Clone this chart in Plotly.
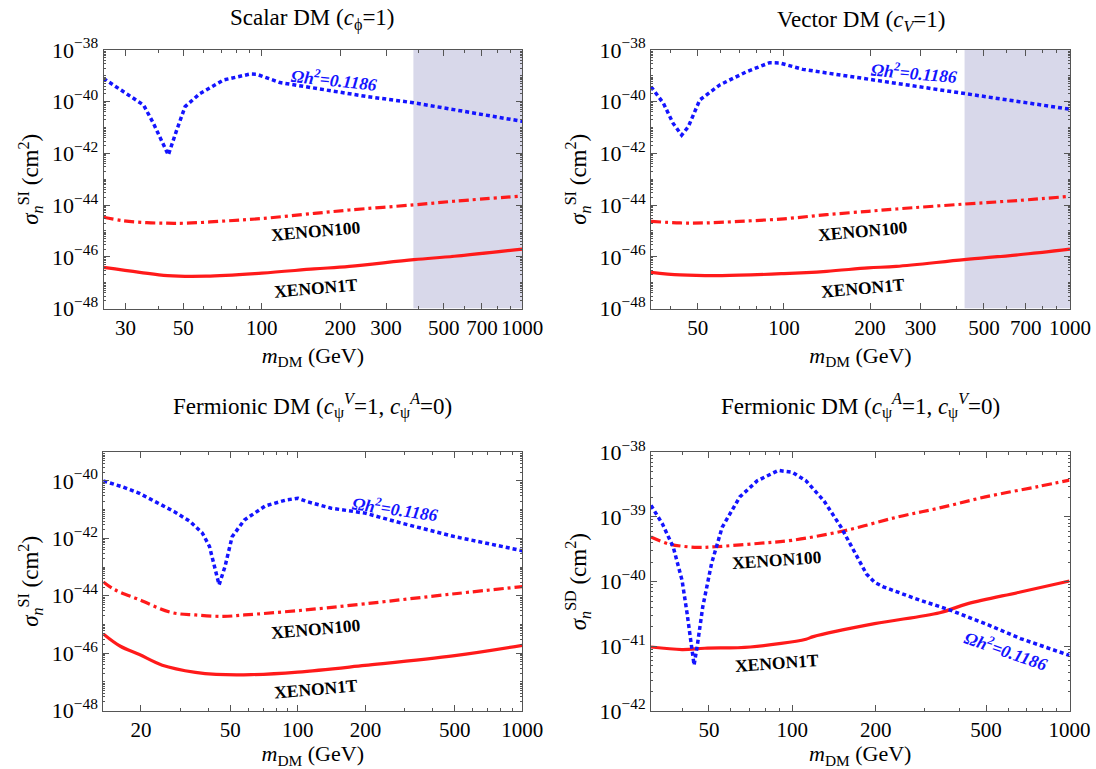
import numpy as np
import plotly.graph_objects as go

# ---------------- data (masses in GeV, cross sections as log10(cm^2)) ----------------
# Panel 1: Scalar DM
p1_relic_m = [24.7, 35.2, 38.4, 41.9, 43.8, 47.2, 50.8, 58.0, 71.3, 90.2, 95.7, 117.5, 140, 188, 253, 382, 612, 1000]
p1_relic_s = [-39.10, -40.13, -40.84, -41.62, -42.06, -41.09, -40.19, -39.68, -39.16, -38.93, -38.94, -39.26, -39.39, -39.61, -39.80, -40.04, -40.39, -40.76]
p1_x100_m = [24.7, 29.2, 36.2, 43.5, 50.8, 73.6, 100, 159, 217, 384, 548, 1000]
p1_x100_s = [-44.47, -44.60, -44.68, -44.70, -44.70, -44.61, -44.52, -44.32, -44.19, -43.99, -43.85, -43.65]
p1_x1t_m = [24.7, 34, 43.5, 61.2, 100, 159, 217, 384, 548, 1000]
p1_x1t_s = [-46.41, -46.60, -46.73, -46.75, -46.63, -46.47, -46.37, -46.11, -45.98, -45.70]
p1_shade = [382, 1000]

# Panel 2: Vector DM
p2_relic_m = [34.3, 37.9, 41.0, 43.9, 46.3, 50.8, 59.7, 74, 89.2, 96.6, 116.5, 174, 227, 433, 665, 1000]
p2_relic_s = [-39.42, -40.06, -40.84, -41.29, -40.97, -39.93, -39.35, -38.84, -38.49, -38.50, -38.75, -39.03, -39.23, -39.68, -40.00, -40.29]
p2_x100_m = [34.3, 43.4, 52.7, 69.8, 100, 141, 197, 247, 427, 661, 1000]
p2_x100_s = [-44.63, -44.69, -44.69, -44.63, -44.53, -44.37, -44.24, -44.15, -43.96, -43.82, -43.66]
p2_x1t_m = [34.3, 43.4, 60.7, 100, 141, 197, 247, 427, 661, 1000]
p2_x1t_s = [-46.60, -46.70, -46.73, -46.65, -46.56, -46.43, -46.37, -46.11, -45.92, -45.70]
p2_shade = [428, 1000]

# Panel 3: Fermionic DM, vector coupling (SI)
p3_relic_m = [13.6, 16.5, 19.7, 24.4, 28.2, 33.1, 37.6, 40.4, 42.6, 44.6, 47.4, 51, 57.8, 71.6, 88.9, 100, 110, 141, 199, 290, 500, 1000]
p3_relic_s = [-40.00, -40.20, -40.43, -40.80, -41.07, -41.41, -41.82, -42.28, -42.98, -43.62, -42.98, -41.94, -41.36, -40.87, -40.66, -40.60, -40.72, -40.95, -41.12, -41.47, -41.94, -42.43]
p3_x100_m = [13.6, 15.3, 19.7, 27.2, 35, 46.6, 57.8, 100, 199, 500, 1000]
p3_x100_s = [-43.52, -43.79, -44.14, -44.58, -44.67, -44.72, -44.67, -44.52, -44.28, -43.93, -43.68]
p3_x1t_m = [13.6, 16.2, 19.7, 24.9, 35, 43.3, 62.1, 100, 199, 500, 1000]
p3_x1t_s = [-45.33, -45.76, -46.05, -46.42, -46.67, -46.74, -46.75, -46.66, -46.43, -46.09, -45.73]

# Panel 4: Fermionic DM, axial coupling (SD)
p4_relic_m = [30.9, 34.0, 37.2, 40.0, 41.7, 43.2, 44.2, 45.5, 47.5, 51.1, 55.8, 64.6, 74.7, 89, 100, 112, 130, 150, 169, 185, 198, 213, 277, 371, 497, 665, 1000]
p4_relic_s = [-38.82, -39.11, -39.47, -39.98, -40.49, -40.96, -41.29, -40.96, -40.39, -39.72, -39.16, -38.69, -38.44, -38.28, -38.31, -38.44, -38.75, -39.16, -39.57, -39.88, -40.01, -40.08, -40.26, -40.44, -40.65, -40.88, -41.14]
p4_x100_m = [30.9, 36.1, 45.5, 52.7, 74.7, 100, 155, 240, 340, 497, 769, 1000]
p4_x100_s = [-39.31, -39.42, -39.47, -39.46, -39.41, -39.36, -39.21, -39.00, -38.86, -38.69, -38.53, -38.43]
p4_x1t_m = [30.9, 40, 48.3, 70.5, 112, 119, 198, 340, 430, 665, 1000]
p4_x1t_s = [-41.01, -41.05, -41.03, -41.01, -40.89, -40.85, -40.65, -40.48, -40.34, -40.16, -39.99]

# axis ranges (GeV) and tick labels
x_ranges = [[24.7, 1000], [34.3, 1000], [13.6, 1000], [30.9, 1000]]
x_ticks = [[30, 50, 100, 200, 300, 500, 700, 1000],
           [50, 100, 200, 300, 500, 700, 1000],
           [20, 50, 100, 200, 500, 1000],
           [50, 100, 200, 500, 1000]]
y_ranges = [[-48, -38], [-48, -38], [-48, -39], [-42, -38]]
y_ticks = [[-48, -46, -44, -42, -40, -38], [-48, -46, -44, -42, -40, -38],
           [-48, -46, -44, -42, -40], [-42, -41, -40, -39, -38]]

titles = ["Scalar DM (<i>c</i><sub>ϕ</sub>=1)",
          "Vector DM (<i>c</i><sub><i>V</i></sub>=1)",
          "Fermionic DM (<i>c</i><sub>ψ</sub><sup><i>V</i></sup>=1, <i>c</i><sub>ψ</sub><sup><i>A</i></sup>=0)",
          "Fermionic DM (<i>c</i><sub>ψ</sub><sup><i>A</i></sup>=1, <i>c</i><sub>ψ</sub><sup><i>V</i></sup>=0)"]
y_titles = ["<i>σ</i><sub><i>n</i></sub><sup>SI</sup> (cm<sup>2</sup>)"] * 3 + ["<i>σ</i><sub><i>n</i></sub><sup>SD</sup> (cm<sup>2</sup>)"]
x_title = "<i>m</i><sub>DM</sub> (GeV)"

# label positions (GeV, log10 sigma, angle)
relic_lbl = [(189, -39.12, 6), (284, -38.84, 5), (270, -40.95, 8), (592, -41.06, 19)]
x100_lbl = [(162, -45.02, -5), (189, -45.01, -5), (120, -45.16, -5), (87.7, -39.67, -4)]
x1t_lbl = [(162, -47.2, -5), (189, -47.2, -5), (120, -47.25, -5), (87.7, -41.26, -4)]

# ---------------- layout geometry (pixels) ----------------
W, H = 1096, 769
px_x = [[103.5, 522.3], [651, 1070], [103.3, 522.3], [651, 1069.5]]
px_y = [[50, 308.5], [50, 308.5], [452.3, 710.5], [452.3, 711]]
title_y = [19, 21, 406, 406]

FONT = "Liberation Serif"
BLUE = "#1414ff"
RED = "#ff1a1a"
FRAME = "#555555"

fig = go.Figure()
panels = [
    (p1_relic_m, p1_relic_s, p1_x100_m, p1_x100_s, p1_x1t_m, p1_x1t_s, p1_shade),
    (p2_relic_m, p2_relic_s, p2_x100_m, p2_x100_s, p2_x1t_m, p2_x1t_s, p2_shade),
    (p3_relic_m, p3_relic_s, p3_x100_m, p3_x100_s, p3_x1t_m, p3_x1t_s, None),
    (p4_relic_m, p4_relic_s, p4_x100_m, p4_x100_s, p4_x1t_m, p4_x1t_s, None),
]


def sup(v):
    return "10<sup>" + ("−" if v < 0 else "") + str(abs(v)) + "</sup>"


annotations = []
for i, (rm, rs, am, a_s, tm, ts, shade) in enumerate(panels):
    k = "" if i == 0 else str(i + 1)
    xa, ya = "x" + k, "y" + k
    if shade is not None:
        fig.add_trace(go.Scatter(
            x=[shade[0], shade[1], shade[1], shade[0], shade[0]],
            y=[10.0 ** y_ranges[i][0], 10.0 ** y_ranges[i][0], 10.0 ** y_ranges[i][1], 10.0 ** y_ranges[i][1], 10.0 ** y_ranges[i][0]],
            fill="toself", fillcolor="rgb(216,216,234)", line=dict(width=0),
            mode="lines", hoverinfo="skip", showlegend=False, xaxis=xa, yaxis=ya))
    fig.add_trace(go.Scatter(x=am, y=10.0 ** np.array(a_s), mode="lines", line=dict(color=RED, width=3.2, dash="10px,4px,3px,4px"),
                             line_shape="spline", showlegend=False, xaxis=xa, yaxis=ya, name="XENON100"))
    fig.add_trace(go.Scatter(x=tm, y=10.0 ** np.array(ts), mode="lines", line=dict(color=RED, width=3.2),
                             line_shape="spline", showlegend=False, xaxis=xa, yaxis=ya, name="XENON1T"))
    fig.add_trace(go.Scatter(x=rm, y=10.0 ** np.array(rs), mode="lines", line=dict(color=BLUE, width=3.5, dash="4px,3px"),
                             showlegend=False, xaxis=xa, yaxis=ya, name="relic"))

    # minor ticks
    xmin = [a * 10 ** d for d in (1, 2) for a in range(1, 10) if x_ranges[i][0] <= a * 10 ** d <= 1000 and a * 10 ** d not in x_ticks[i]]
    ymin = [a * 10.0 ** d for d in range(y_ranges[i][0], y_ranges[i][1]) for a in range(1, 10)]
    ymin = [v for v in ymin if round(np.log10(v), 6) not in y_ticks[i]]

    fig.layout["xaxis" + k] = dict(
        type="log", range=[np.log10(x_ranges[i][0]), np.log10(x_ranges[i][1])],
        domain=[px_x[i][0] / W, px_x[i][1] / W], anchor=ya, automargin=False,
        tickvals=x_ticks[i], ticktext=[str(v) for v in x_ticks[i]],
        ticks="inside", ticklen=6, tickcolor=FRAME, showline=True, linecolor=FRAME, linewidth=1,
        mirror="allticks", showgrid=False, zeroline=False,
        tickfont=dict(family=FONT, size=21, color="black"),
        minor=dict(tickvals=xmin, ticks="inside", ticklen=3, tickcolor=FRAME, showgrid=False),
        title=dict(text=x_title, font=dict(family=FONT, size=22, color="black"), standoff=8),
    )
    fig.layout["yaxis" + k] = dict(
        type="log", range=y_ranges[i],
        domain=[1 - px_y[i][1] / H, 1 - px_y[i][0] / H], anchor=xa, automargin=False,
        tickvals=[10.0 ** v for v in y_ticks[i]], ticktext=[sup(v) for v in y_ticks[i]],
        ticks="inside", ticklen=6, tickcolor=FRAME, showline=True, linecolor=FRAME, linewidth=1,
        mirror="allticks", showgrid=False, zeroline=False,
        tickfont=dict(family=FONT, size=22, color="black"),
        minor=dict(tickvals=ymin, ticks="inside", ticklen=2, tickcolor=FRAME, showgrid=False),
        title=dict(text=y_titles[i], font=dict(family=FONT, size=23, color="black"), standoff=6),
    )

    annotations.append(dict(text=titles[i], xref="paper", yref="paper",
                            x=(px_x[i][0] + px_x[i][1]) / 2 / W, y=1 - title_y[i] / H,
                            showarrow=False, font=dict(family=FONT, size=23, color="black"),
                            xanchor="center", yanchor="middle"))
    for (lm, ls, ang), txt, col in [
        (relic_lbl[i], "<b><i>Ωh<sup>2</sup>=0.1186</i></b>", BLUE),
        (x100_lbl[i], "<b>XENON100</b>", "black"),
        (x1t_lbl[i], "<b>XENON1T</b>", "black"),
    ]:
        annotations.append(dict(text=txt, xref=xa, yref=ya, x=np.log10(lm), y=ls, showarrow=False,
                                textangle=ang, font=dict(family=FONT, size=17.5, color=col),
                                xanchor="center", yanchor="middle"))

fig.update_layout(template="none", width=W, height=H, margin=dict(l=0, r=0, t=0, b=0, autoexpand=False),
                  paper_bgcolor="white", plot_bgcolor="white",
                  annotations=annotations, showlegend=False)

fig.write_html("out.html", config={"displayModeBar": False},
               post_script="document.body.style.margin='0px'; document.body.style.overflow='hidden';")
